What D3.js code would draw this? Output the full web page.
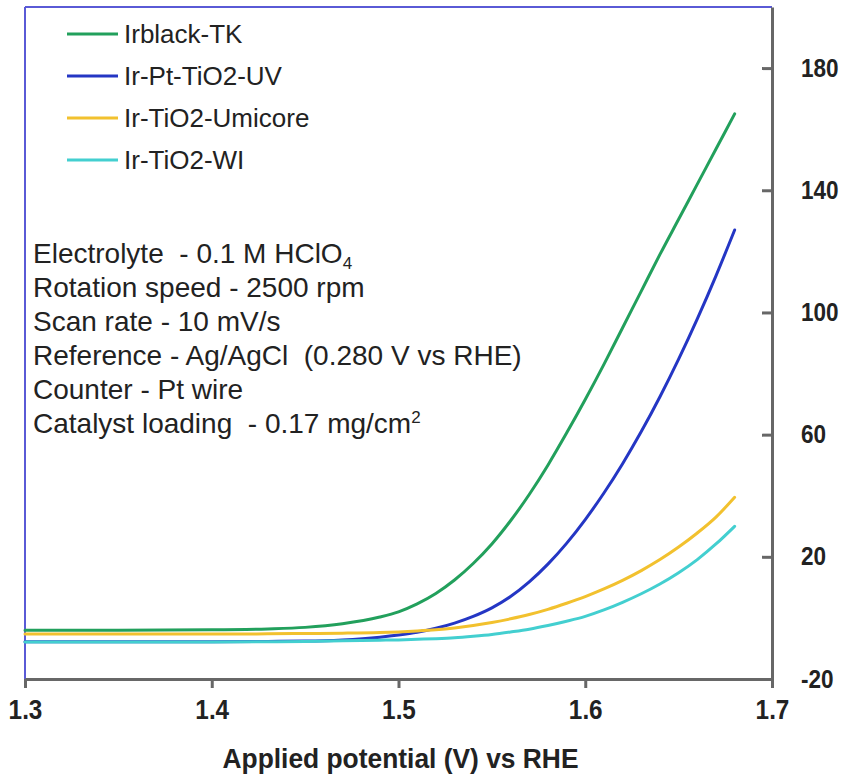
<!DOCTYPE html>
<html>
<head>
<meta charset="utf-8">
<script src="https://cdn.jsdelivr.net/npm/d3@7"></script>
<style>
  html, body { margin: 0; padding: 0; background: #ffffff; }
  svg { display: block; }
</style>
</head>
<body>
<svg id="chart" width="841" height="778"></svg>
<script>
// ---- data ----
const potential = [1.30, 1.35, 1.40, 1.43, 1.45, 1.47, 1.49, 1.50, 1.51, 1.52, 1.53, 1.54, 1.55, 1.56, 1.57, 1.58, 1.59, 1.60, 1.61, 1.62, 1.63, 1.64, 1.65, 1.66, 1.67, 1.68];
const irblackTK   = [-4.0, -4.0, -3.9, -3.6, -3.1, -1.9, 0.3, 2.0, 4.6, 8.0, 12.4, 17.8, 24.2, 31.8, 40.4, 50, 60.5, 71.5, 83, 95, 107, 119, 130.5, 142, 153.5, 165];
const irPtTiO2UV  = [-7.8, -7.8, -7.8, -7.7, -7.6, -7.2, -6.3, -5.6, -4.7, -3.4, -1.7, 0.5, 3.3, 7.0, 11.8, 17.6, 24.4, 32.2, 40.9, 50.5, 61.0, 72.4, 84.7, 97.9, 112.0, 127.0];
const irTiO2Umicore = [-5.3, -5.3, -5.3, -5.2, -5.1, -5.0, -4.8, -4.6, -4.3, -3.9, -3.3, -2.5, -1.5, -0.3, 1.1, 2.8, 4.8, 7.0, 9.5, 12.3, 15.5, 19.1, 23.2, 27.8, 33.0, 39.5];
const irTiO2WI    = [-7.9, -7.9, -7.9, -7.8, -7.7, -7.5, -7.3, -7.2, -7.0, -6.8, -6.5, -6.0, -5.4, -4.6, -3.7, -2.5, -1.1, 0.5, 2.6, 5.1, 7.9, 11.1, 14.8, 19.1, 24.2, 30];

const seriesNames = ["Irblack-TK", "Ir-Pt-TiO2-UV", "Ir-TiO2-Umicore", "Ir-TiO2-WI"];
const seriesValues = [irblackTK, irPtTiO2UV, irTiO2Umicore, irTiO2WI];
const seriesColors = ["#22a05c", "#2436c4", "#f2c12e", "#43cfd0"];

const xTicks = [1.3, 1.4, 1.5, 1.6, 1.7];
const yTicks = [-20, 20, 60, 100, 140, 180];
const yTickLabels = ["-20", "20", "60", "100", "140", "180"];

const notes = [
  ["Electrolyte  - 0.1 M HClO", "4", "sub"],
  ["Rotation speed - 2500 rpm", "", ""],
  ["Scan rate - 10 mV/s", "", ""],
  ["Reference - Ag/AgCl  (0.280 V vs RHE)", "", ""],
  ["Counter - Pt wire", "", ""],
  ["Catalyst loading  - 0.17 mg/cm", "2", "sup"]
];

// ---- layout ----
const svg = d3.select("#chart");
const pLeft = 25, pRight = 772, pTop = 7, pBottom = 679;

const x = d3.scaleLinear().domain([1.3, 1.7]).range([pLeft, pRight]);
const y = d3.scaleLinear().domain([-20, 200]).range([pBottom, pTop]);

const axisColor = "#676767";
const borderColor = "#5a5ad6";
const fontFam = "'Liberation Sans', Arial, Helvetica, sans-serif";

// blue frame (left & top)
svg.append("line").attr("x1", pLeft).attr("x2", pLeft).attr("y1", pTop).attr("y2", pBottom)
  .attr("stroke", borderColor).attr("stroke-width", 2);
svg.append("line").attr("x1", pLeft).attr("x2", pRight).attr("y1", pTop).attr("y2", pTop)
  .attr("stroke", borderColor).attr("stroke-width", 2);

// curves
const line = d3.line().x((d, i) => x(potential[i])).y(d => y(d)).curve(d3.curveMonotoneX);
seriesValues.forEach((vals, k) => {
  svg.append("path").datum(vals)
    .attr("fill", "none")
    .attr("stroke", seriesColors[k])
    .attr("stroke-width", 3)
    .attr("stroke-linecap", "round")
    .attr("d", line);
});

// x axis
const gx = svg.append("g").attr("transform", `translate(0,${pBottom})`)
  .call(d3.axisBottom(x).tickValues(xTicks).tickSize(9).tickSizeOuter(0).tickPadding(12).tickFormat(d3.format(".1f")));
gx.select(".domain").attr("stroke", axisColor).attr("stroke-width", 3);
gx.selectAll(".tick line").attr("stroke", axisColor).attr("stroke-width", 3);
gx.selectAll(".tick text").attr("fill", "#222").attr("font-family", fontFam)
  .attr("font-size", 27).attr("font-weight", "bold").attr("dy", "0.71em")
  .attr("transform", "scale(0.9,1)");

// y axis (right, ticks inward)
const gy = svg.append("g").attr("transform", `translate(${pRight},0)`)
  .call(d3.axisRight(y).tickValues(yTicks).tickSize(-10).tickSizeOuter(0).tickPadding(29)
    .tickFormat((d, i) => yTickLabels[i]));
gy.select(".domain").attr("stroke", axisColor).attr("stroke-width", 3);
gy.selectAll(".tick line").attr("stroke", axisColor).attr("stroke-width", 3);
gy.selectAll(".tick text").attr("fill", "#222").attr("font-family", fontFam)
  .attr("font-size", 25).attr("font-weight", "bold")
  .attr("transform", "translate(29,0) scale(0.9,1) translate(-29,0)");

// x axis title
svg.append("text")
  .attr("x", (pLeft + pRight) / 2 + 2).attr("y", 768)
  .attr("text-anchor", "middle")
  .attr("font-family", fontFam).attr("font-size", 27).attr("font-weight", "bold")
  .attr("fill", "#222")
  .attr("textLength", 356).attr("lengthAdjust", "spacingAndGlyphs")
  .text("Applied potential (V) vs RHE");

// legend
const legendY0 = 34, legendStep = 42;
seriesNames.forEach((name, k) => {
  const ly = legendY0 + k * legendStep;
  svg.append("line").attr("x1", 67).attr("x2", 118).attr("y1", ly).attr("y2", ly)
    .attr("stroke", seriesColors[k]).attr("stroke-width", 3);
  svg.append("text").attr("x", 124).attr("y", ly).attr("dy", "0.35em")
    .attr("font-family", fontFam).attr("font-size", 26).attr("fill", "#222")
    .text(name);
});

// annotation block
notes.forEach((n, k) => {
  const t = svg.append("text").attr("x", 33).attr("y", 263 + k * 34)
    .attr("font-family", fontFam).attr("font-size", 28).attr("fill", "#222")
    .style("white-space", "pre");
  t.append("tspan").text(n[0]);
  if (n[1]) {
    t.append("tspan").attr("font-size", 17)
      .attr("dy", n[2] === "sub" ? 6 : -10)
      .text(n[1]);
  }
});
</script>
</body>
</html>
